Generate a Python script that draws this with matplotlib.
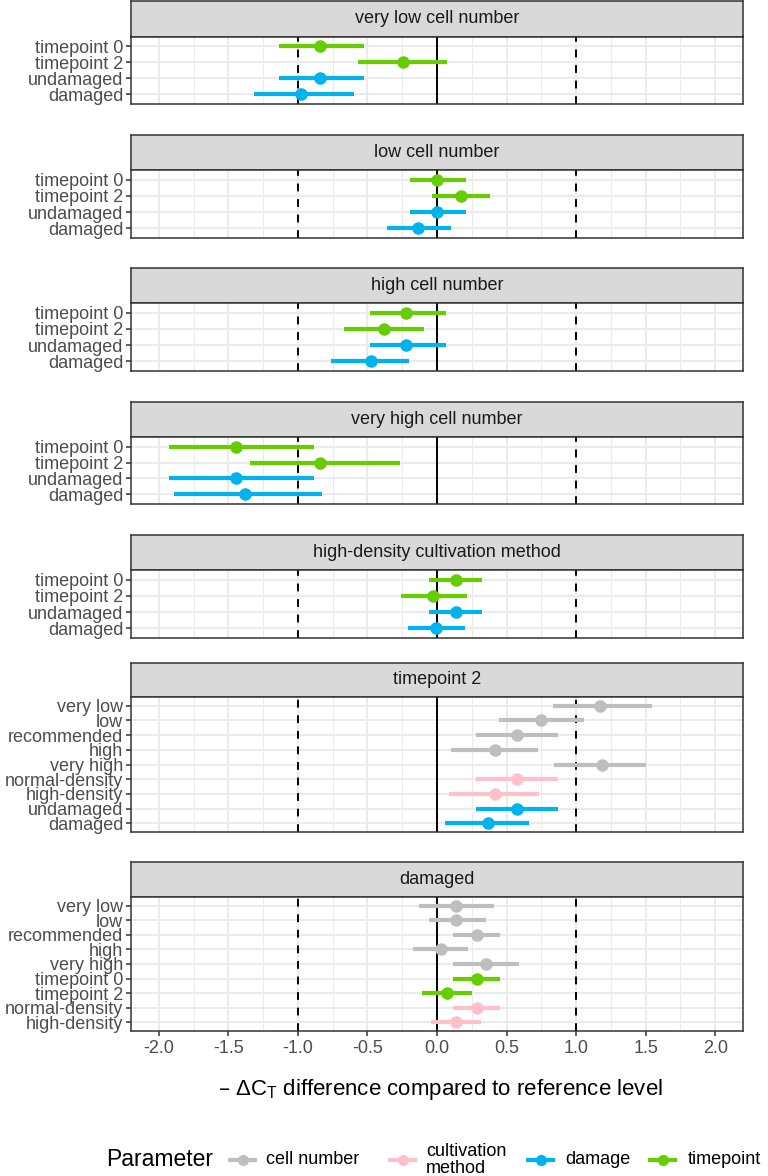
import matplotlib
matplotlib.use("Agg")
import matplotlib.pyplot as plt
from matplotlib.lines import Line2D
import numpy as np

plt.rcParams['font.family'] = ['Liberation Sans', 'DejaVu Sans']
plt.rcParams['mathtext.default'] = 'regular'

# ---------------- data ----------------
panel_titles = ["very low cell number", "low cell number", "high cell number",
                "very high cell number", "high-density cultivation method",
                "timepoint 2", "damaged"]

labels_short = ["timepoint 0", "timepoint 2", "undamaged", "damaged"]
groups_short = ["timepoint", "timepoint", "damage", "damage"]

labels_tp2 = ["very low", "low", "recommended", "high", "very high",
              "normal-density", "high-density", "undamaged", "damaged"]
groups_tp2 = ["cell number", "cell number", "cell number", "cell number", "cell number",
              "cultivation method", "cultivation method", "damage", "damage"]

labels_dam = ["very low", "low", "recommended", "high", "very high",
              "timepoint 0", "timepoint 2", "normal-density", "high-density"]
groups_dam = ["cell number", "cell number", "cell number", "cell number", "cell number",
              "timepoint", "timepoint", "cultivation method", "cultivation method"]

est_very_low = [-0.84, -0.245, -0.84, -0.98]
lo_very_low = [-1.136, -0.571, -1.136, -1.315]
hi_very_low = [-0.526, 0.07, -0.526, -0.60]

est_low = [0.0, 0.175, 0.0, -0.14]
lo_low = [-0.196, -0.035, -0.196, -0.36]
hi_low = [0.21, 0.38, 0.21, 0.098]

est_high = [-0.22, -0.38, -0.22, -0.473]
lo_high = [-0.484, -0.666, -0.484, -0.764]
hi_high = [0.067, -0.091, 0.067, -0.203]

est_very_high = [-1.444, -0.84, -1.444, -1.38]
lo_very_high = [-1.93, -1.343, -1.93, -1.89]
hi_very_high = [-0.883, -0.263, -0.883, -0.827]

est_hd = [0.14, -0.03, 0.14, -0.007]
lo_hd = [-0.056, -0.256, -0.056, -0.207]
hi_hd = [0.326, 0.214, 0.326, 0.20]

est_tp2 = [1.171, 0.75, 0.578, 0.414, 1.185, 0.578, 0.414, 0.578, 0.365]
lo_tp2 = [0.831, 0.449, 0.28, 0.102, 0.841, 0.28, 0.088, 0.28, 0.06]
hi_tp2 = [1.546, 1.055, 0.869, 0.729, 1.50, 0.869, 0.733, 0.869, 0.659]

est_dam = [0.14, 0.14, 0.284, 0.028, 0.35, 0.284, 0.07, 0.284, 0.14]
lo_dam = [-0.13, -0.06, 0.116, -0.172, 0.116, 0.116, -0.105, 0.116, -0.042]
hi_dam = [0.407, 0.354, 0.456, 0.221, 0.592, 0.456, 0.252, 0.456, 0.319]

legend_keys = ["cell number", "cultivation method", "damage", "timepoint"]
legend_labels = ["cell number", "cultivation\nmethod", "damage", "timepoint"]
colors = {"cell number": "#BEBEBE", "cultivation method": "#FFC0CB",
          "damage": "#00B2EE", "timepoint": "#66CD00"}

x_ticks = [-2.0, -1.5, -1.0, -0.5, 0.0, 0.5, 1.0, 1.5, 2.0]
x_minor = [-1.75, -1.25, -0.75, -0.25, 0.25, 0.75, 1.25, 1.75]

panels = [
    (labels_short, groups_short, est_very_low, lo_very_low, hi_very_low),
    (labels_short, groups_short, est_low, lo_low, hi_low),
    (labels_short, groups_short, est_high, lo_high, hi_high),
    (labels_short, groups_short, est_very_high, lo_very_high, hi_very_high),
    (labels_short, groups_short, est_hd, lo_hd, hi_hd),
    (labels_tp2, groups_tp2, est_tp2, lo_tp2, hi_tp2),
    (labels_dam, groups_dam, est_dam, lo_dam, hi_dam),
]

# ---------------- layout (pixels, top origin) ----------------
W, H = 768, 1176
fig = plt.figure(figsize=(W / 100, H / 100), dpi=100)
left_px, right_px = 131, 743
layout = [  # strip top, panel top, panel bottom
    (1, 36.5, 104),
    (135, 170, 238),
    (268, 303, 371),
    (402, 437, 504),
    (535, 570, 638),
    (663, 697, 832),
    (862, 897, 1031),
]

def fr(x0, y0, x1, y1):
    return [x0 / W, 1 - y1 / H, (x1 - x0) / W, (y1 - y0) / H]

dark = '#333333'
txtc = '#4D4D4D'
gridc = '#EBEBEB'
fs_tick = 13

for i, ((labs, grps, est, lo, hi), title, (st, pt, pb)) in enumerate(zip(panels, panel_titles, layout)):
    # strip
    sax = fig.add_axes(fr(left_px, st, right_px, pt))
    sax.set_facecolor('#D9D9D9')
    sax.set_xticks([]); sax.set_yticks([])
    for s in sax.spines.values():
        s.set_color(dark); s.set_linewidth(1.1)
    sax.text(0.5, 0.5, title, ha='center', va='center', fontsize=13,
             color='#1A1A1A', transform=sax.transAxes)

    ax = fig.add_axes(fr(left_px, pt, right_px, pb))
    n = len(labs)
    y = np.arange(n)
    ax.set_xlim(-2.2, 2.2)
    ax.set_ylim(n - 1 + 0.6, -0.6)
    for xv in x_minor:
        ax.axvline(xv, color=gridc, lw=0.8, zorder=0)
    for xv in x_ticks:
        ax.axvline(xv, color=gridc, lw=1.5, zorder=0)
    for yv in y:
        ax.axhline(yv, color=gridc, lw=1.5, zorder=0)
    ax.axvline(0, color='black', lw=1.4, zorder=1)
    ax.axvline(-1, color='black', lw=1.4, ls=(0, (4, 4)), zorder=1)
    ax.axvline(1, color='black', lw=1.4, ls=(0, (4, 4)), zorder=1)
    for yy, g, e, l, h in zip(y, grps, est, lo, hi):
        c = colors[g]
        ax.plot([l, h], [yy, yy], color=c, lw=3.0, solid_capstyle='butt', zorder=2)
        ax.plot([e], [yy], 'o', color=c, ms=8, mec=c, zorder=3)
    ax.set_yticks(y)
    ax.set_yticklabels(labs, fontsize=fs_tick, color=txtc)
    ax.tick_params(axis='y', length=3.5, width=1.1, color=dark, pad=2)
    ax.set_xticks(x_ticks)
    if i == len(panels) - 1:
        ax.set_xticklabels([f"{v:.1f}" for v in x_ticks], fontsize=fs_tick, color=txtc)
        ax.tick_params(axis='x', length=3.5, width=1.1, color=dark, pad=3)
    else:
        ax.tick_params(axis='x', length=0, labelbottom=False)
    for s in ax.spines.values():
        s.set_color(dark); s.set_linewidth(1.1)

# axis title
fig.text(440 / W, 1 - 1090 / H,
         r'– $\Delta C_T$ difference compared to reference level',
         ha='center', va='center', fontsize=16, color='black')

# legend (manual placement of keys and labels)
ly = 1 - 1160 / H
fig.text(106 / W, ly, "Parameter", ha='left', va='center', fontsize=16.5, color='black')
key_x = [(228, 257), (388, 417), (526, 555), (648, 677)]
text_x = [266, 426, 565, 688]
for k, lab, (x0, x1), tx in zip(legend_keys, legend_labels, key_x, text_x):
    c = colors[k]
    fig.add_artist(Line2D([x0 / W, x1 / W], [ly, ly], color=c, lw=3.0,
                          transform=fig.transFigure, solid_capstyle='butt'))
    fig.add_artist(Line2D([(x0 + x1) / 2 / W], [ly], color=c, marker='o', ms=7,
                          mec=c, transform=fig.transFigure))
    fig.text(tx / W, ly, lab, ha='left', va='center', fontsize=13,
             color='black', linespacing=1.0)

fig.savefig("out.png", dpi=100)
